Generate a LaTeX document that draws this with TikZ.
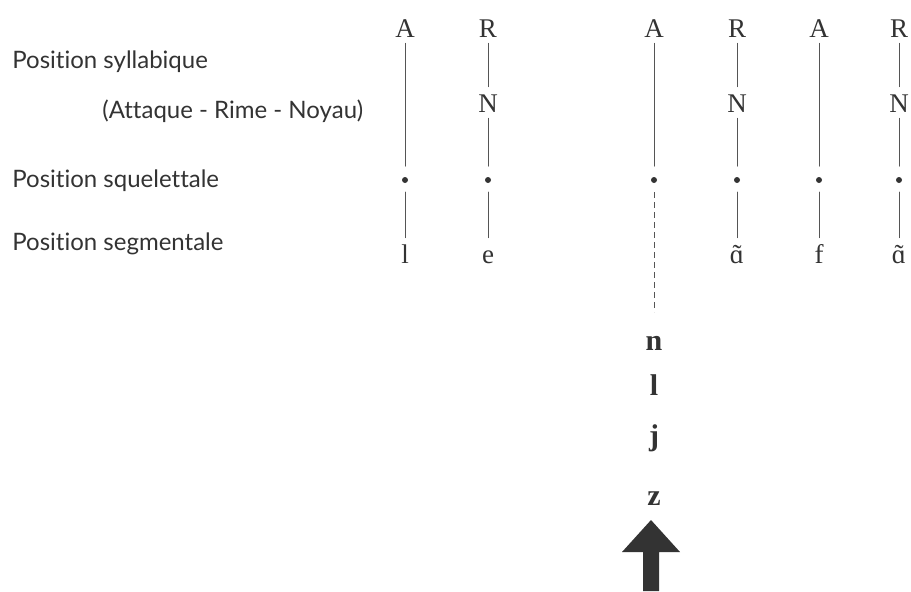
\documentclass[tikz,border=0pt]{standalone}
\usepackage{fontspec}
\setmainfont{Liberation Serif}
\newfontfamily\labfont[Ligatures={NoCommon,NoRequired}]{Lato}
\definecolor{ink}{HTML}{333333}
\definecolor{wire}{HTML}{555555}
\newcommand{\nasa}{\accent"02DC ɑ}
\begin{document}
\begin{tikzpicture}[x=0.5pt, y=-0.5pt, line join=round, line cap=round,
    sym/.style={font=\fontsize{13.5}{15}\selectfont, text=ink, inner sep=0pt,
      text height=8.5pt, text depth=0pt, anchor=base},
    seg/.style={sym, font=\fontsize{15}{17}\selectfont\bfseries},
    lab/.style={font=\labfont\fontsize{12}{14}\selectfont, text=ink,
      inner sep=0pt, anchor=base west},
    pt/.style={circle, fill=ink, inner sep=0pt, minimum size=3pt, outer sep=1.5pt},
    lk/.style={draw=wire, line width=0.5pt, shorten <=3pt, shorten >=4pt}]
  \useasboundingbox (0,0) rectangle (911,591);
  % labels
  \node[lab] (syl) at (12,68) {Position syllabique};
  \node[lab] (arn) at (102,118) {(Attaque - Rime - Noyau)};
  \node[lab] (squ) at (12,187) {Position squelettale};
  \node[lab] (sgm) at (12,250) {Position segmentale};
  % syllabic tier
  \node[sym] (a1) at (405,37) {A};
  \node[sym] (r1) at (488,37) {R};
  \node[sym] (a2) at (654,37) {A};
  \node[sym] (r2) at (737,37) {R};
  \node[sym] (a3) at (819,37) {A};
  \node[sym] (r3) at (899,37) {R};
  \node[sym] (n1) at (488,112) {N};
  \node[sym] (n2) at (737,112) {N};
  \node[sym] (n3) at (899,112) {N};
  % skeleton
  \foreach \i/\x in {1/405, 2/488, 3/654, 4/737, 5/819, 6/899}
    \node[pt] (p\i) at (\x,180) {};
  % segments
  \node[sym] (s1) at (405,263) {l};
  \node[sym] (s2) at (488,263) {e};
  \node[sym] (s4) at (737,263) {\nasa};
  \node[sym] (s5) at (819,263) {f};
  \node[sym] (s6) at (899,263) {\nasa};
  \coordinate (open) at (654,312);
  % links
  \draw[lk] (a1) -- (p1);
  \draw[lk] (r1) -- (n1);
  \draw[lk] (n1) -- (p2);
  \draw[lk] (a2) -- (p3);
  \draw[lk] (r2) -- (n2);
  \draw[lk] (n2) -- (p4);
  \draw[lk] (a3) -- (p5);
  \draw[lk] (r3) -- (n3);
  \draw[lk] (n3) -- (p6);
  \foreach \i in {1,2,4,5,6}
    \draw[lk] (p\i) -- (s\i);
  \draw[lk, shorten >=0pt, dash pattern=on 3pt off 2pt, line cap=butt] (p3) -- (open);
  % candidates
  \node[seg] (cn) at (654,350) {n};
  \node[seg] (cl) at (654,395) {l};
  \node[seg] (cj) at (654,445) {j};
  \node[seg] (cz) at (654,505) {z};
  % arrow
  \fill[ink] (651,520) -- (680,552) -- (659,552) -- (659,591)
    -- (643,591) -- (643,552) -- (622,552) -- cycle;
\end{tikzpicture}
\end{document}
